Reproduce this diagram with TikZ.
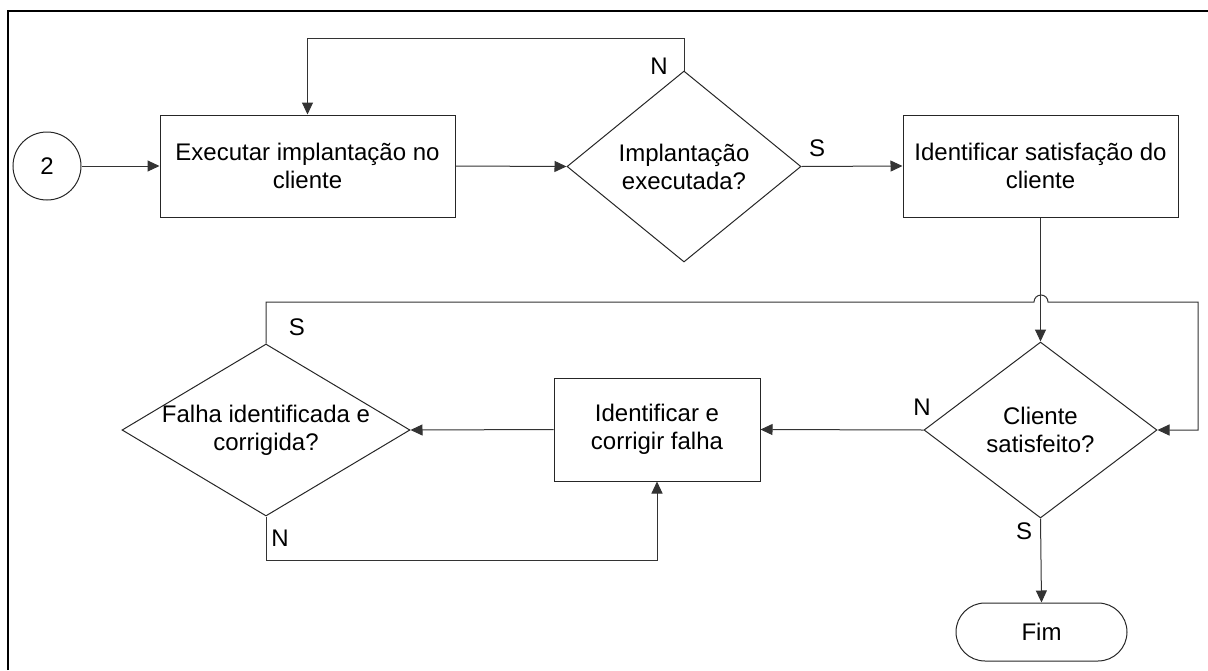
\documentclass[tikz,border=0pt]{standalone}
\usepackage{fontspec}
\setmainfont{Liberation Sans}
\usetikzlibrary{shapes.geometric,arrows.meta}
\begin{document}
\begin{tikzpicture}[x=1pt,y=-1pt,
  every node/.style={font=\fontsize{24}{28}\selectfont, text=black},
  procbox/.style={draw=black!85, line width=1pt, rectangle, align=center, inner sep=0pt},
  decision/.style={draw=black!85, line width=1pt, diamond, inner sep=0pt},
  connector/.style={draw=black!85, line width=1pt, circle, inner sep=0pt},
  terminal/.style={draw=black!85, line width=1pt, rectangle, rounded corners=29pt, inner sep=0pt},
  flow/.style={draw=black!80, line width=1pt},
  arr/.style={flow, -{Triangle[length=12pt,width=11pt]}},
  tag/.style={inner sep=0pt}
]
\useasboundingbox (0,0) rectangle (1208,670);
% page frame (top and left edges only)
\draw[line width=2.2pt] (8,670) -- (8,11) -- (1208,11);

% nodes
\node[connector, minimum size=68pt] (c2) at (47,166) {2};
\node[procbox, minimum width=295pt, minimum height=102pt] (b1) at (307.5,166) {Executar implantação no\\cliente};
\node[decision, minimum width=234pt, minimum height=191pt,
      label={[align=center]center:Implantação\\executada?}] (d1) at (684,166.5) {};
\node[procbox, minimum width=275pt, minimum height=102pt] (b3) at (1040.5,166) {Identificar satisfação do\\cliente};
\node[decision, minimum width=233pt, minimum height=176pt,
      label={[align=center]center:Cliente\\satisfeito?}] (d2) at (1040.5,430) {};
\node[procbox, minimum width=206pt, minimum height=103pt] (bf) at (657,429.5) {Identificar e\\corrigir falha};
\node[decision, minimum width=288pt, minimum height=172pt,
      label={[align=center]center:Falha identificada e\\corrigida?}] (d3) at (266,430) {};
\node[terminal, minimum width=171pt, minimum height=58pt] (fim) at (1041.5,632) {Fim};

% branch labels
\node[tag] (n1) at (659,66) {N};
\node[tag] (s1) at (817,148) {S};
\node[tag] (s3) at (297,327) {S};
\node[tag] (n3) at (280,538) {N};
\node[tag] (n2) at (922,407) {N};
\node[tag] (s2) at (1024,531) {S};

% turning points
\coordinate (t1) at (684,38);
\coordinate (t2) at (307.5,38);
\coordinate (h1) at (266,302);
\coordinate (h2) at (1198,302);
\coordinate (h3) at (1198,430);
\coordinate (l1) at (266,560);
\coordinate (l2) at (657,560);

% connectors
\draw[arr] (c2) -- (b1);
\draw[arr] (b1.east) -- (d1.west);
\draw[arr] (d1.north) -- (t1) -- (t2) -- (b1.north);
\draw[arr] (d1.east) -- (b3.west);
\draw[arr] (b3.south) -- (d2.north);
\draw[arr] (d3.north) -- (h1) -- (1034,302) arc[start angle=180, end angle=0, radius=7pt] -- (h2) -- (h3) -- (d2.east);
\draw[arr] (d2.west) -- (bf.east);
\draw[arr] (bf.west) -- (d3.east);
\draw[arr] (d3.south) -- (l1) -- (l2) -- (bf.south);
\draw[arr] (d2.south) -- (fim.north);
\end{tikzpicture}
\end{document}
